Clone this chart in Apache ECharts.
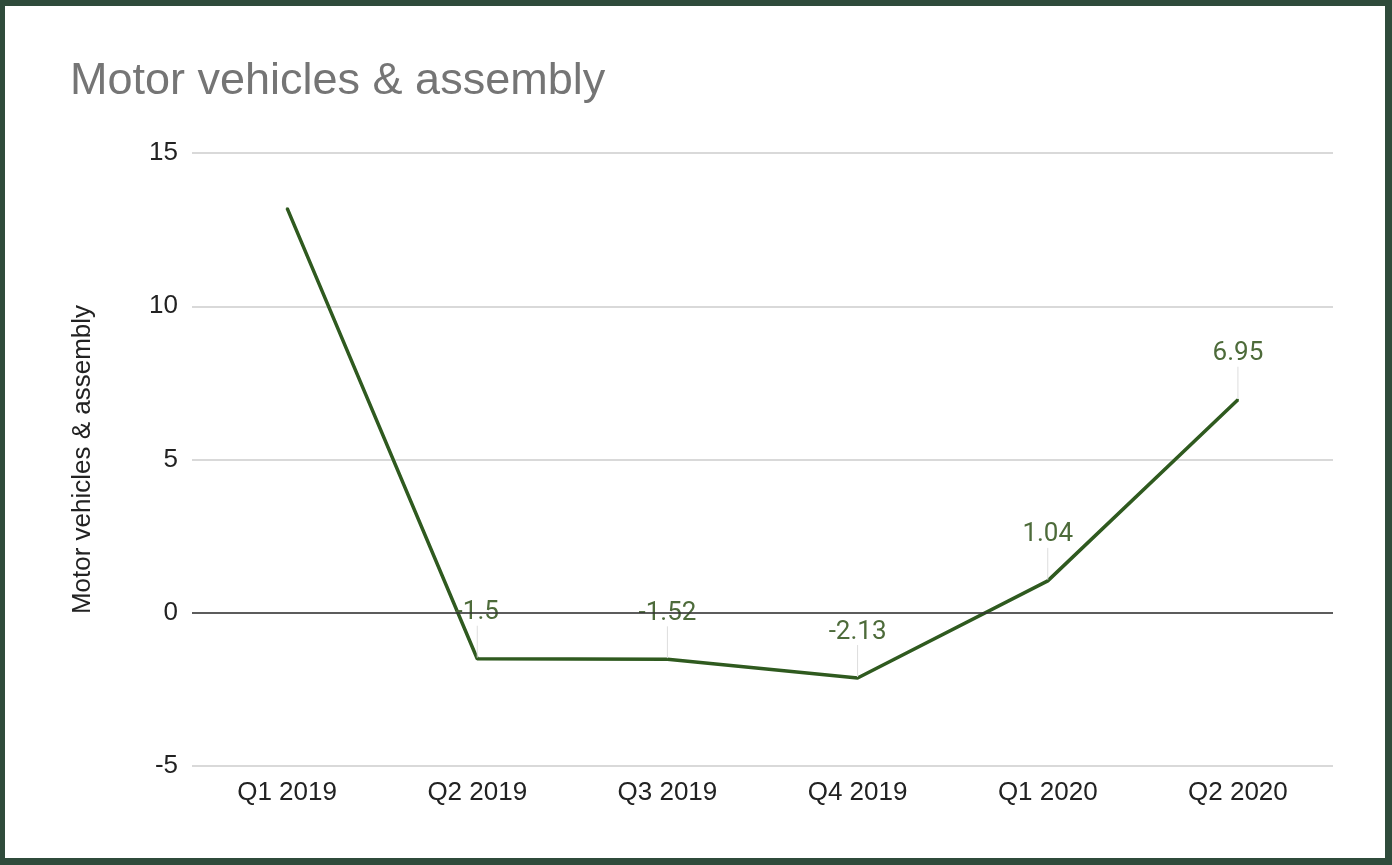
<!DOCTYPE html>
<html lang="en">
<head>
    <meta charset="UTF-8">
    <title>Motor vehicles &amp; assembly</title>
    <style type="text/css">
        html, body {
            margin: 0;
            padding: 0;
            background: #2f4b3b;
        }

        .chartFrame {
            position: absolute;
            left: 5px;
            top: 6px;
            width: 1380px;
            height: 852px;
            background: #ffffff;
        }

        #lineChart {
            width: 100%;
            height: 100%;
        }
    </style>
    <script type="text/javascript" src="https://cdn.jsdelivr.net/npm/echarts@6/dist/echarts.min.js"></script>
</head>
<body>
    <div class="chartFrame"><div id="lineChart"></div></div>
</body>
</html>
<script type="text/javascript">
    var quarters = ['Q1 2019', 'Q2 2019', 'Q3 2019', 'Q4 2019', 'Q1 2020', 'Q2 2020'];
    var motorValues = [13.2, -1.5, -1.52, -2.13, 1.04, 6.95];
    var showLabel = [false, true, true, true, true, true];

    var seriesData = [];
    for (var i = 0; i < motorValues.length; i++) {
        seriesData.push({
            value: motorValues[i],
            label: { show: showLabel[i] },
            labelLine: { show: showLabel[i] }
        });
    }

    var lineChart = echarts.init(document.getElementById('lineChart'));
    var lineOption = {
        title: {
            text: 'Motor vehicles & assembly',
            left: 60,
            top: 48,
            textStyle: {
                color: '#757575',
                fontSize: 45,
                fontWeight: 'normal',
                fontFamily: 'Liberation Sans, Arial, sans-serif'
            }
        },
        grid: {
            left: 187,
            right: 52,
            top: 147,
            bottom: 92
        },
        xAxis: {
            type: 'category',
            data: quarters,
            boundaryGap: true,
            axisLine: { show: false },
            axisTick: { show: false },
            axisLabel: {
                color: '#222',
                fontSize: 26,
                margin: 14,
                fontFamily: 'Liberation Sans, Arial, sans-serif'
            }
        },
        yAxis: {
            type: 'value',
            min: -5,
            max: 15,
            interval: 5,
            name: 'Motor vehicles & assembly',
            nameLocation: 'middle',
            nameGap: 96,
            nameTextStyle: {
                color: '#222',
                fontSize: 26,
                fontFamily: 'Liberation Sans, Arial, sans-serif'
            },
            axisLabel: {
                color: '#222',
                fontSize: 26,
                margin: 14,
                fontFamily: 'Liberation Sans, Arial, sans-serif'
            },
            axisLine: { show: false },
            axisTick: { show: false },
            splitLine: {
                lineStyle: { color: '#cccccc', width: 1.5 }
            }
        },
        series: [{
            name: 'Motor vehicles & assembly',
            type: 'line',
            data: seriesData,
            symbol: 'circle',
            symbolSize: 2,
            showSymbol: true,
            lineStyle: { color: '#2f5a1f', width: 3.5 },
            itemStyle: { color: '#2f5a1f' },
            label: {
                position: 'top',
                color: '#4d6b3a',
                fontSize: 26,
                fontFamily: 'Roboto, sans-serif'
            },
            labelLayout: { dy: -27 },
            labelLine: {
                lineStyle: { color: '#dddddd', width: 1 }
            },
            markLine: {
                silent: true,
                symbol: 'none',
                label: { show: false },
                lineStyle: { color: '#333333', width: 1.5, type: 'solid' },
                data: [{ yAxis: 0 }]
            }
        }]
    };
    lineChart.setOption(lineOption);
</script>
